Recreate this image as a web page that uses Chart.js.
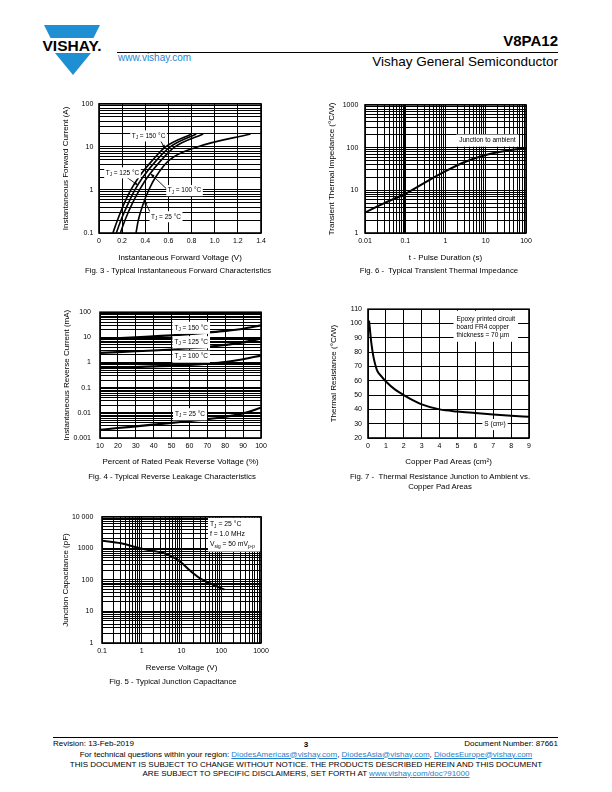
<!DOCTYPE html>
<html>
<head>
<meta charset="utf-8">
<title>V8PA12 - Typical characteristics</title>
<script src="https://cdn.jsdelivr.net/npm/chart.js@4.4.1/dist/chart.umd.min.js"></script>
<style>
html,body{margin:0;padding:0;background:#fff;}
body{position:relative;width:612px;height:792px;overflow:hidden;font-family:"Liberation Sans",Arial,Helvetica,sans-serif;color:#000;}
.t{position:absolute;white-space:nowrap;line-height:1;}
canvas{position:absolute;}
.lnk{color:#1f80cc;text-decoration:underline;}
</style>
</head>
<body>
<svg style="position:absolute;left:0;top:0" width="612" height="90">
  <polygon points="44,25 100,25 93.5,38 50.5,38" fill="#1e8fd2"/>
  <text x="72" y="51" text-anchor="middle" font-family="Liberation Sans, Arial, sans-serif" font-weight="bold" font-size="14" textLength="59" lengthAdjust="spacingAndGlyphs">VISHAY.</text>
  <polygon points="55,53 91,53 73,75" fill="#1e8fd2"/>
</svg>
<div style="position:absolute;left:117px;top:52px;width:441px;height:1px;background:#000"></div>
<div style="position:absolute;left:53px;top:737px;width:505px;height:1px;background:#000"></div>
<script>
// ---------------- DATA ----------------
// Fig. 3 - Typical Instantaneous Forward Characteristics
const fwdCurrent = [0.1, 0.2, 0.5, 1, 2, 5, 10, 20];            // A
const fwdV150 = [0.12, 0.16, 0.22, 0.275, 0.345, 0.465, 0.575, 0.80]; // V
const fwdV125 = [0.15, 0.19, 0.255, 0.31, 0.38, 0.50, 0.615, 0.84];
const fwdV100 = [0.185, 0.225, 0.29, 0.35, 0.42, 0.54, 0.655, 0.90];
const fwdV25  = [0.32, 0.34, 0.385, 0.43, 0.49, 0.61, 0.85, 1.31];
const fwdVoltTicks  = [0, 0.2, 0.4, 0.6, 0.8, 1.0, 1.2, 1.4];
const fwdVoltLabels = ['0', '0.2', '0.4', '0.6', '0.8', '1.0', '1.2', '1.4'];
const fwdCurrTicks  = [0.1, 1, 10, 100];
const fwdCurrLabels = ['0.1', '1', '10', '100'];

// Fig. 6 - Typical Transient Thermal Impedance
const pulseT = [0.01, 0.03, 0.1, 0.3, 1, 3, 10, 30, 100];   // s
const zthJA  = [3.0, 5.0, 8.3, 15, 28, 46, 67, 83, 97];      // °C/W
const pulseTicks  = [0.01, 0.1, 1, 10, 100];
const pulseLabels = ['0.01', '0.1', '1', '10', '100'];
const zthTicks  = [1, 10, 100, 1000];
const zthLabels = ['1', '10', '100', '1000'];

// Fig. 4 - Typical Reverse Leakage Characteristics
const revPct  = [10, 20, 30, 40, 50, 60, 70, 80, 90, 100];  // %
const ir150 = [8.5, 9.2, 10, 11, 12, 13.5, 15.5, 18, 22, 30]; // mA
const ir125 = [2.4, 2.6, 2.8, 3.0, 3.3, 3.7, 4.2, 5.0, 6.3, 9.0];
const ir100 = [0.6, 0.63, 0.66, 0.7, 0.74, 0.8, 0.9, 1.05, 1.35, 1.9];
const ir25  = [0.0021, 0.0025, 0.0029, 0.0034, 0.0040, 0.0047, 0.0056, 0.0070, 0.0095, 0.016];
const pctTicks  = [10, 20, 30, 40, 50, 60, 70, 80, 90, 100];
const pctLabels = ['10', '20', '30', '40', '50', '60', '70', '80', '90', '100'];
const irTicks  = [0.001, 0.01, 0.1, 1, 10, 100];
const irLabels = ['0.001', '0.01', '0.1', '1', '10', '100'];

// Fig. 7 - Thermal Resistance Junction to Ambient vs. Copper Pad Areas
const padArea = [0.06, 0.1, 0.15, 0.2, 0.3, 0.5, 0.75, 1, 1.5, 2, 2.5, 3, 4, 5, 6, 7, 8, 9]; // cm²
const rthJA   = [102, 97, 90.5, 85, 77, 67.5, 63, 59.5, 54, 50, 46.5, 43.5, 40, 38.5, 37.5, 36.5, 35.6, 34.8];
const areaTicks  = [0, 1, 2, 3, 4, 5, 6, 7, 8, 9];
const areaLabels = ['0', '1', '2', '3', '4', '5', '6', '7', '8', '9'];
const rthTicks  = [20, 30, 40, 50, 60, 70, 80, 90, 100, 110];
const rthLabels = ['20', '30', '40', '50', '60', '70', '80', '90', '100', '110'];

// Fig. 5 - Typical Junction Capacitance
const revV = [0.1, 0.3, 1, 2, 4, 7, 10, 15, 20, 30, 50, 100, 120];      // V
const capJ = [1750, 1450, 980, 830, 680, 480, 350, 220, 160, 110, 80, 54, 50]; // pF
const rvTicks  = [0.1, 1, 10, 100, 1000];
const rvLabels = ['0.1', '1', '10', '100', '1000'];
const capTicks  = [1, 10, 100, 1000, 10000];
const capLabels = ['1', '10', '100', '1000', '10 000'];

// ---------------- HELPERS ----------------
const FONT = '"Liberation Sans", Arial, Helvetica, sans-serif';
Chart.defaults.font.family = FONT;
Chart.defaults.color = '#000';

function logGrid(lo, hi) {
  const a = [];
  for (let e = lo; e < hi; e++) for (let k = 1; k <= 9; k++) a.push(+(k * Math.pow(10, e)).toPrecision(10));
  a.push(+Math.pow(10, hi).toPrecision(10));
  return a;
}
const near = (t, v) => Math.abs(t - v) <= 1e-9 + 1e-6 * Math.abs(t);
function labOf(a, v) {
  const i = a.labVals.findIndex(t => near(t, v));
  return i >= 0 ? a.labs[i] : '';
}
function segWidth(ctx, segs, size) {
  let w = 0;
  segs.forEach(s => { ctx.font = (s.sub ? size * 0.7 : size) + 'px ' + FONT; w += ctx.measureText(s.t).width; });
  return w;
}
function drawSegs(ctx, segs, x, y, size) {
  let cx = x;
  segs.forEach(s => {
    const fs = s.sub ? size * 0.7 : size;
    ctx.font = fs + 'px ' + FONT;
    ctx.fillText(s.t, cx, s.sub ? y + size * 0.3 : y);
    cx += ctx.measureText(s.t).width;
  });
}
const notesPlugin = {
  id: 'notes',
  afterDatasetsDraw(chart, args, opts) {
    const ctx = chart.ctx, xs = chart.scales.x, ys = chart.scales.y;
    const P = p => [xs.getPixelForValue(p[0]), ys.getPixelForValue(p[1])];
    ctx.save();
    (opts.arrows || []).forEach(a => {
      const [x1, y1] = P(a.from), [x2, y2] = P(a.to);
      ctx.strokeStyle = '#000'; ctx.lineWidth = 0.9;
      ctx.beginPath(); ctx.moveTo(x1, y1); ctx.lineTo(x2, y2); ctx.stroke();
      const ang = Math.atan2(y2 - y1, x2 - x1), hl = 4, hw = 1.7;
      ctx.beginPath();
      ctx.moveTo(x2, y2);
      ctx.lineTo(x2 - hl * Math.cos(ang) + hw * Math.sin(ang), y2 - hl * Math.sin(ang) - hw * Math.cos(ang));
      ctx.lineTo(x2 - hl * Math.cos(ang) - hw * Math.sin(ang), y2 - hl * Math.sin(ang) + hw * Math.cos(ang));
      ctx.closePath(); ctx.fillStyle = '#000'; ctx.fill();
    });
    (opts.labels || []).forEach(l => {
      const size = l.size || 6.5, lh = l.lh || size * 1.25, pad = l.pad == null ? 1.5 : l.pad;
      const [px, py] = P(l.at);
      const w = Math.max(...l.lines.map(s => segWidth(ctx, s, size)));
      const h = lh * l.lines.length;
      let left, top;
      if (l.anchor === 'left') { left = px; top = py - lh / 2; } else { left = px - w / 2; top = py - h / 2; }
      const bx = l.box || [pad, pad, pad, pad]; // left, top, right, bottom
      ctx.fillStyle = '#fff';
      ctx.fillRect(left - bx[0], top - bx[1], w + bx[0] + bx[2], h + bx[1] + bx[3]);
      ctx.fillStyle = '#000'; ctx.textBaseline = 'middle'; ctx.textAlign = 'left';
      l.lines.forEach((segs, i) => drawSegs(ctx, segs, left, top + lh * (i + 0.5), size));
    });
    ctx.restore();
  }
};
const framePlugin = {
  id: 'frame',
  afterDraw(chart) {
    const { ctx, chartArea: a } = chart;
    ctx.save(); ctx.strokeStyle = '#000'; ctx.lineWidth = 1.6;
    ctx.strokeRect(a.left, a.top, a.right - a.left, a.bottom - a.top);
    ctx.restore();
  }
};
Chart.register(notesPlugin, framePlugin);

function makeChart(spec) {
  const p = spec.plot, L = 48, T = 8, R = 16, B = 45;
  const W = L + p.w + R, H = T + p.h + B;
  const cv = document.createElement('canvas');
  cv.width = W; cv.height = H;
  cv.style.left = (p.x - L) + 'px'; cv.style.top = (p.y - T) + 'px';
  cv.style.width = W + 'px'; cv.style.height = H + 'px';
  document.body.appendChild(cv);
  const canvasLeft = p.x - L, canvasBottom = p.y - T + H;
  const axis = (a, pos) => ({
    type: a.type, position: pos, min: a.min, max: a.max,
    afterBuildTicks: s => { s.ticks = a.grid.map(v => ({ value: v })); },
    afterFit: s => { if (pos === 'left') s.width = L; else s.height = B; },
    ticks: { autoSkip: false, maxRotation: 0, minRotation: 0, padding: a.tickPad, color: '#000',
             font: { size: 7 }, callback: v => labOf(a, v) },
    grid: { color: '#000', drawTicks: false,
            lineWidth: c => (a.thick && c.tick && a.thick.some(t => near(t, c.tick.value))) ? 2 : 1 },
    border: { display: false },
    title: { display: true, text: a.title, color: '#000', font: { size: 8 },
             padding: pos === 'left' ? { top: a.titlePos - canvasLeft - 4.8, bottom: 0 }
                                     : { top: 0, bottom: canvasBottom - a.titlePos - 4.8 } }
  });
  return new Chart(cv, {
    type: 'line',
    data: { datasets: spec.datasets.map(d => Object.assign({
      borderColor: '#000', borderWidth: 2, pointRadius: 0, fill: false,
      cubicInterpolationMode: 'monotone' }, d)) },
    options: {
      responsive: false, animation: false, devicePixelRatio: 1,
      layout: { padding: { left: 0, top: T, right: R, bottom: 0 } },
      scales: { x: axis(spec.x, 'bottom'), y: axis(spec.y, 'left') },
      plugins: { legend: { display: false }, tooltip: { enabled: false }, notes: spec.notes || {} }
    }
  });
}
const pts = (xs, ys) => xs.map((x, i) => ({ x: x, y: ys[i] }));
const TJ = rest => [{ t: 'T' }, { t: 'J', sub: true }, { t: rest }];

// ---------------- FIG. 3 ----------------
makeChart({
  plot: { x: 99, y: 102, w: 162, h: 131 },
  x: { type: 'linear', min: 0, max: 1.4, grid: fwdVoltTicks, labVals: fwdVoltTicks, labs: fwdVoltLabels,
       title: 'Instantaneous Forward Voltage (V)', titlePos: 258, tickPad: 3.5 },
  y: { type: 'logarithmic', min: 0.1, max: 100, grid: logGrid(-1, 2), labVals: fwdCurrTicks, labs: fwdCurrLabels,
       title: 'Instantaneous Forward Current (A)', titlePos: 65.5, tickPad: 5.7 },
  datasets: [
    { label: 'TJ = 150 °C', data: pts(fwdV150, fwdCurrent), borderWidth: 1.6 },
    { label: 'TJ = 125 °C', data: pts(fwdV125, fwdCurrent), borderWidth: 1.6 },
    { label: 'TJ = 100 °C', data: pts(fwdV100, fwdCurrent), borderWidth: 1.6 },
    { label: 'TJ = 25 °C',  data: pts(fwdV25,  fwdCurrent), borderWidth: 1.6 }
  ],
  notes: {
    arrows: [
      { from: [0.527, 15], to: [0.57, 9] },
      { from: [0.225, 2.1], to: [0.335, 1.3] },
      { from: [0.585, 1.05], to: [0.445, 2.4] },
      { from: [0.455, 0.258], to: [0.392, 0.57] }
    ],
    labels: [
      { at: [0.428, 18], lines: [TJ(' = 150 °C')] },
      { at: [0.203, 2.5], lines: [TJ(' = 125 °C')] },
      { at: [0.739, 0.965], lines: [TJ(' = 100 °C')] },
      { at: [0.579, 0.239], lines: [TJ(' = 25 °C')] }
    ]
  }
});

// ---------------- FIG. 6 ----------------
makeChart({
  plot: { x: 365, y: 102, w: 161, h: 131 },
  x: { type: 'logarithmic', min: 0.01, max: 100, grid: logGrid(-2, 2), labVals: pulseTicks, labs: pulseLabels,
       title: 't - Pulse Duration (s)', titlePos: 258, tickPad: 3.5, thick: [0.1] },
  y: { type: 'logarithmic', min: 1, max: 1000, grid: logGrid(0, 3), labVals: zthTicks, labs: zthLabels,
       title: 'Transient Thermal Impedance (°C/W)', titlePos: 332, tickPad: 6.7 },
  datasets: [ { label: 'Junction to ambient', data: pts(pulseT, zthJA), borderWidth: 2 } ],
  notes: { labels: [ { at: [11, 146], lines: [[{ t: 'Junction to ambient' }]], box: [3, 2, 3, 2] } ] }
});

// ---------------- FIG. 4 ----------------
makeChart({
  plot: { x: 100, y: 307, w: 161, h: 131 },
  x: { type: 'linear', min: 10, max: 100, grid: pctTicks, labVals: pctTicks, labs: pctLabels,
       title: 'Percent of Rated Peak Reverse Voltage (%)', titlePos: 462, tickPad: 3.5 },
  y: { type: 'logarithmic', min: 0.001, max: 100, grid: logGrid(-3, 2), labVals: irTicks, labs: irLabels,
       title: 'Instantaneous Reverse Current (mA)', titlePos: 66.7, tickPad: 9 },
  datasets: [
    { label: 'TJ = 150 °C', data: pts(revPct, ir150), borderWidth: 2.2 },
    { label: 'TJ = 125 °C', data: pts(revPct, ir125), borderWidth: 2.2 },
    { label: 'TJ = 100 °C', data: pts(revPct, ir100), borderWidth: 2.2 },
    { label: 'TJ = 25 °C',  data: pts(revPct, ir25),  borderWidth: 2.2 }
  ],
  notes: {
    labels: [
      { at: [61, 23.9], lines: [TJ(' = 150 °C')], box: [2, 2, 2, 2] },
      { at: [61, 6.4], lines: [TJ(' = 125 °C')], box: [2, 2, 2, 2] },
      { at: [61, 1.71], lines: [TJ(' = 100 °C')], box: [2, 2, 2, 2] },
      { at: [60.3, 0.0088], lines: [TJ(' = 25 °C')], box: [2, 2, 2, 2] }
    ]
  }
});

// ---------------- FIG. 7 ----------------
makeChart({
  plot: { x: 368, y: 307, w: 161, h: 131 },
  x: { type: 'linear', min: 0, max: 9, grid: areaTicks, labVals: areaTicks, labs: areaLabels,
       title: 'Copper Pad Areas (cm²)', titlePos: 462, tickPad: 3.5 },
  y: { type: 'linear', min: 20, max: 110, grid: rthTicks, labVals: rthTicks, labs: rthLabels,
       title: 'Thermal Resistance (°C/W)', titlePos: 333.3, tickPad: 6 },
  datasets: [ { label: 'RthJA', data: pts(padArea, rthJA), borderWidth: 2 } ],
  notes: {
    labels: [
      { at: [4.95, 103.3], anchor: 'left', lh: 8, lines: [
          [{ t: 'Epoxy printed circuit' }], [{ t: 'board FR4 copper' }], [{ t: 'thickness = 70 µm' }] ],
        box: [3, 4, 3, 3] },
      { at: [7.1, 29.4], lines: [[{ t: 'S (cm²)' }]], box: [2, 1.5, 2, 1.5] }
    ]
  }
});

// ---------------- FIG. 5 ----------------
makeChart({
  plot: { x: 102, y: 512, w: 159, h: 131 },
  x: { type: 'logarithmic', min: 0.1, max: 1000, grid: logGrid(-1, 3), labVals: rvTicks, labs: rvLabels,
       title: 'Reverse Voltage (V)', titlePos: 668, tickPad: 3.5 },
  y: { type: 'logarithmic', min: 1, max: 10000, grid: logGrid(0, 4), labVals: capTicks, labs: capLabels,
       title: 'Junction Capacitance (pF)', titlePos: 66, tickPad: 8.7 },
  datasets: [ { label: 'Cj', data: pts(revV, capJ), borderWidth: 2 } ],
  notes: {
    labels: [
      { at: [52, 5700], anchor: 'left', lh: 10, size: 6.8, lines: [
          TJ(' = 25 °C'), [{ t: 'f = 1.0 MHz' }],
          [{ t: 'V' }, { t: 'sig', sub: true }, { t: ' = 50 mV' }, { t: 'p-p', sub: true }] ],
        box: [2, 2, 6, 2] }
    ]
  }
});

// ---------------- PAGE TEXT ----------------
function put(html, x, y, size, anchor, extra) {
  const d = document.createElement('div');
  d.className = 't';
  d.innerHTML = html;
  d.style.left = x + 'px'; d.style.top = y + 'px'; d.style.fontSize = size + 'px';
  const tx = anchor === 'c' ? '-50%' : anchor === 'r' ? '-100%' : '0';
  d.style.transform = 'translate(' + tx + ',-50%)';
  if (extra) Object.assign(d.style, extra);
  document.body.appendChild(d);
}
put('V8PA12', 558, 40, 15, 'r', { fontWeight: 'bold' });
put('Vishay General Semiconductor', 558, 62, 13.5, 'r');
put('<span style="color:#1f86cf">www.vishay.com</span>', 118, 58, 10, 'l');

put('Fig. 3 - Typical Instantaneous Forward Characteristics', 178, 271, 7.8, 'c');
put('Fig. 6 -&nbsp; Typical Transient Thermal Impedance', 439, 271, 7.8, 'c');
put('Fig. 4 - Typical Reverse Leakage Characteristics', 172, 477, 7.8, 'c');
put('Fig. 7 -&nbsp; Thermal Resistance Junction to Ambient vs.', 440, 477, 7.8, 'c');
put('Copper Pad Areas', 440, 487, 7.8, 'c');
put('Fig. 5 - Typical Junction Capacitance', 173, 682, 7.8, 'c');

put('Revision: 13-Feb-2019', 53, 744, 8, 'l');
put('3', 306, 745, 8, 'c', { fontWeight: 'bold' });
put('Document Number: 87661', 558, 744, 8, 'r');
put('For technical questions within your region: <span class="lnk">DiodesAmericas@vishay.com</span>, <span class="lnk">DiodesAsia@vishay.com</span>, <span class="lnk">DiodesEurope@vishay.com</span>', 306, 754.5, 8, 'c');
put('THIS DOCUMENT IS SUBJECT TO CHANGE WITHOUT NOTICE. THE PRODUCTS DESCRIBED HEREIN AND THIS DOCUMENT', 306, 765, 8, 'c');
put('ARE SUBJECT TO SPECIFIC DISCLAIMERS, SET FORTH AT <span class="lnk">www.vishay.com/doc?91000</span>', 306, 773.5, 8, 'c');
</script>
</body>
</html>
